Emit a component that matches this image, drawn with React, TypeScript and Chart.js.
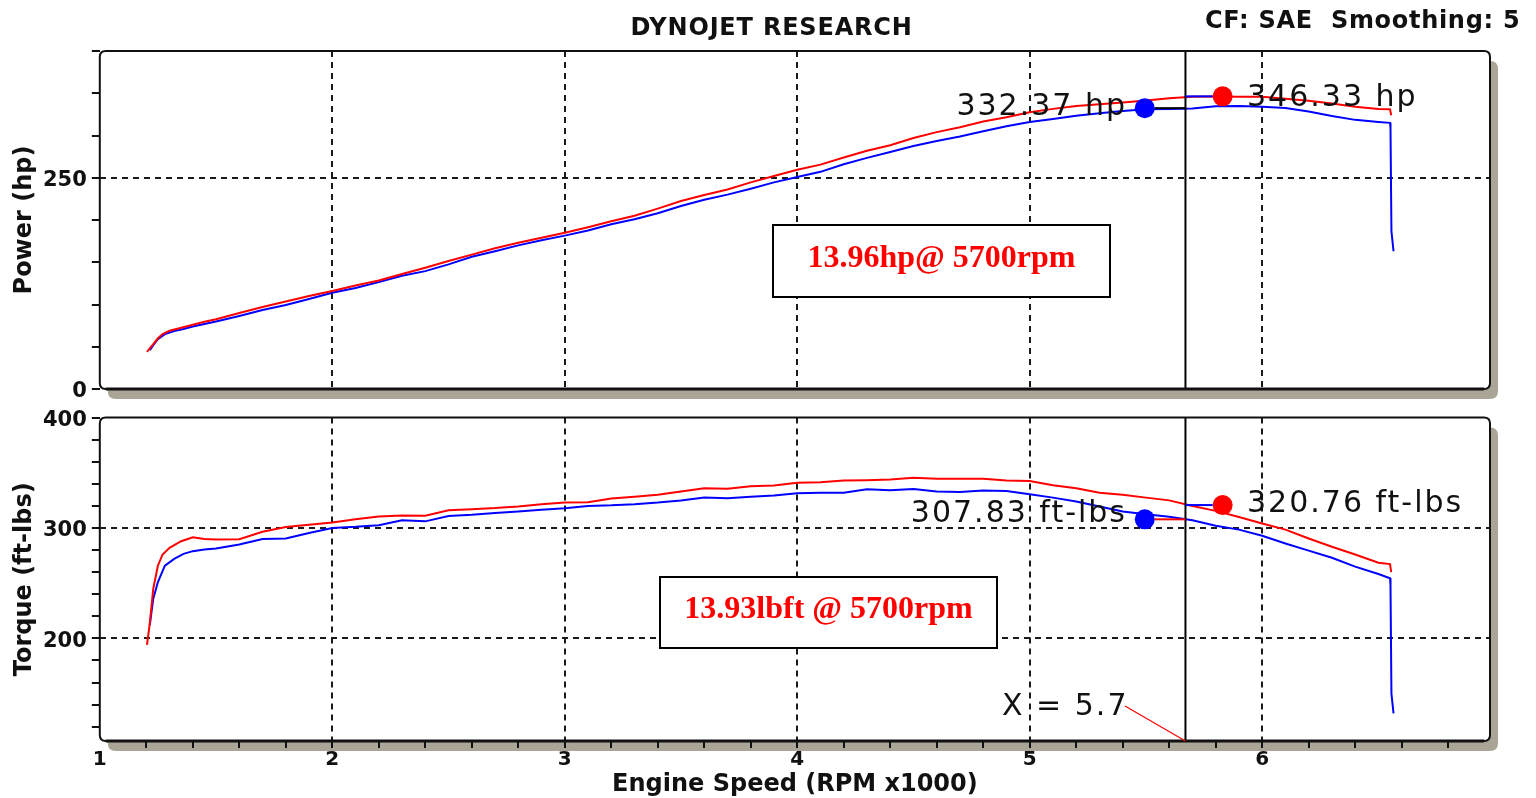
import React, { useEffect, useRef } from "react";
import { Chart, registerables } from "chart.js";

Chart.register(...registerables);

// ---------- DATA ----------
// Run 1 (red)
const run1Rpm = [1.203, 1.215, 1.23, 1.25, 1.27, 1.3, 1.35, 1.4, 1.45, 1.5,
  1.6, 1.7, 1.8, 1.9, 2.0, 2.1, 2.2, 2.3, 2.4, 2.5,
  2.6, 2.7, 2.8, 2.9, 3.0, 3.1, 3.2, 3.3, 3.4, 3.5,
  3.6, 3.7, 3.8, 3.9, 4.0, 4.1, 4.2, 4.3, 4.4, 4.5,
  4.6, 4.7, 4.8, 4.9, 5.0, 5.1, 5.2, 5.3, 5.4, 5.5,
  5.6, 5.7, 5.8, 5.9, 6.0, 6.1, 6.2, 6.3, 6.4, 6.5,
  6.55, 6.555];
const run1Hp = [44, 48, 53, 60, 65, 69, 72.5, 76, 79.5, 82.5,
  90, 97, 103.5, 110, 116, 122.5, 128.5, 136, 143.5, 151.5,
  159, 166.5, 173, 179, 185, 191.5, 198.5, 205, 213.5, 222.5,
  229.5, 236, 244.5, 252, 259.4, 265.5, 274, 282, 288.5, 297,
  304, 309.8, 316.5, 321.5, 327.5, 331.5, 335, 337, 339, 341.5,
  344, 346, 346.3, 346, 346, 343.5, 341, 338, 334, 331.5,
  331, 324];
const run1Tq = [194, 213.7, 245, 266, 276, 282, 288, 291.5, 290, 289.6,
  289.8, 296.5, 300.8, 303, 305, 308, 310.5, 311.2, 311, 316,
  317, 318, 319.5, 321.5, 323, 323.3, 326.8, 328.2, 330, 333,
  336, 335.5, 337.8, 338.5, 341, 341.5, 343, 343.3, 344, 345.5,
  344.6, 344.6, 344.6, 343, 342.6, 338.7, 336, 332, 330, 327.5,
  325, 320, 315.5, 310, 304, 298.5, 290.5, 283, 276, 268.5,
  267.3, 260];

// Run 2 (blue)
const run2Rpm = [1.215, 1.23, 1.25, 1.28, 1.32, 1.36, 1.4, 1.45, 1.5,
  1.6, 1.7, 1.8, 1.9, 2.0, 2.1, 2.2, 2.3, 2.4, 2.5,
  2.6, 2.7, 2.8, 2.9, 3.0, 3.1, 3.2, 3.3, 3.4, 3.5,
  3.6, 3.7, 3.8, 3.9, 4.0, 4.1, 4.2, 4.3, 4.4, 4.5,
  4.6, 4.7, 4.8, 4.9, 5.0, 5.1, 5.2, 5.3, 5.4, 5.5,
  5.6, 5.7, 5.8, 5.9, 6.0, 6.1, 6.2, 6.3, 6.4, 6.5,
  6.55, 6.552, 6.556, 6.565];
const run2Hp = [46, 52, 59, 65, 68.5, 71, 74, 77, 80,
  86.5, 93.5, 99.5, 106.5, 114, 119.5, 126.5, 134, 139.5, 147.5,
  156.5, 163, 170, 176, 181.5, 187.5, 195, 201, 208, 216.5,
  224, 230, 237, 244.5, 250.8, 257, 266, 273.5, 280.5, 287.5,
  293.5, 298.7, 305, 311, 316, 319.5, 323.5, 326.3, 329, 331,
  331.5, 332, 334.5, 335, 334, 332.5, 328.5, 323, 318.5, 316,
  315, 309, 187, 163];
const run2Tq = [212, 236, 251, 265.8, 272, 276.5, 279, 280.5, 281.5,
  285, 290, 290.5, 295.5, 300, 301, 302.5, 307, 306, 310.8,
  311.9, 313.5, 315, 316.5, 317.8, 320, 320.5, 321.5, 323, 325,
  327.5, 327, 328.3, 329.5, 331.5, 332, 332, 335, 334.2, 335.3,
  333, 332.7, 334, 333.6, 330.5, 327.5, 324, 319.5, 315, 312.5,
  310.2, 307, 302, 298.5, 293, 286, 279.5, 273, 265, 258.3,
  254.5, 248, 150, 132];

// Marker dots (blue = run 2, red = run 1)
const markerRpm = [5.495, 5.83];
const markerHp = [332.37, 346.33];
const markerTq = [307.83, 320.76];
const cursorRpm = 5.67;

// Axis ticks
const rpmTicks = [1, 1.2, 1.4, 1.6, 1.8, 2, 2.2, 2.4, 2.6, 2.8, 3, 3.2, 3.4, 3.6, 3.8,
  4, 4.2, 4.4, 4.6, 4.8, 5, 5.2, 5.4, 5.6, 5.8, 6, 6.2, 6.4, 6.6, 6.8];
const rpmLabels = [1, 2, 3, 4, 5, 6];
const rpmGrid = [2, 3, 4, 5, 6];
const powerTicks = [0, 50, 100, 150, 200, 250, 300, 350, 400];
const powerLabels = [0, 250];
const powerGrid = [250];
const torqueTicks = [120, 140, 160, 180, 200, 220, 240, 260, 280, 300, 320, 340, 360, 380, 400];
const torqueLabels = [200, 300, 400];
const torqueGrid = [200, 300];

// ---------- LAYOUT / STYLE ----------
const W = 1536;
const PLOT_LEFT = 99.8;
const PLOT_RIGHT = 1490;
const RED = "#ff0000";
const BLUE = "#0000ff";
const SHADOW = "#aaa596";
const GRID = "#1a1a1a";
const SANS = '"DejaVu Sans", "Noto Sans", sans-serif';
const SERIF = '"Liberation Serif", "DejaVu Serif", serif';

const zip = (xs: number[], ys: number[]) => xs.map((x, i) => ({ x, y: ys[i] }));
const has = (list: number[], v: number) => list.some((u) => Math.abs(u - v) < 1e-6);

function roundRect(ctx: CanvasRenderingContext2D, x: number, y: number, w: number, h: number, r: number) {
  ctx.beginPath();
  ctx.moveTo(x + r, y);
  ctx.lineTo(x + w - r, y);
  ctx.quadraticCurveTo(x + w, y, x + w, y + r);
  ctx.lineTo(x + w, y + h - r);
  ctx.quadraticCurveTo(x + w, y + h, x + w - r, y + h);
  ctx.lineTo(x + r, y + h);
  ctx.quadraticCurveTo(x, y + h, x, y + h - r);
  ctx.lineTo(x, y + r);
  ctx.quadraticCurveTo(x, y, x + r, y);
  ctx.closePath();
}

function text(ctx: any, str: string, x: number, y: number, font: string, color: string, align: string = "left", spacing = 0) {
  ctx.save();
  ctx.font = font;
  ctx.fillStyle = color;
  ctx.textAlign = align;
  ctx.textBaseline = "alphabetic";
  ctx.letterSpacing = spacing + "px";
  ctx.fillText(str, x, y);
  ctx.restore();
}

function line(ctx: CanvasRenderingContext2D, x1: number, y1: number, x2: number, y2: number, color: string, w: number) {
  ctx.save();
  ctx.strokeStyle = color;
  ctx.lineWidth = w;
  ctx.beginPath();
  ctx.moveTo(x1, y1);
  ctx.lineTo(x2, y2);
  ctx.stroke();
  ctx.restore();
}

function box(ctx: CanvasRenderingContext2D, x1: number, y1: number, x2: number, y2: number) {
  ctx.save();
  ctx.fillStyle = "#fff";
  ctx.fillRect(x1, y1, x2 - x1, y2 - y1);
  ctx.strokeStyle = "#000";
  ctx.lineWidth = 2;
  ctx.strokeRect(x1, y1, x2 - x1, y2 - y1);
  ctx.restore();
}

function panelPlugin(id: string, values: number[], leftColor: string, drawExtra: (chart: any) => void) {
  return {
    id,
    beforeDraw(chart: any) {
      const { ctx, chartArea: a } = chart;
      ctx.save();
      ctx.fillStyle = SHADOW;
      roundRect(ctx, a.left + 8, a.top + 10, a.right - a.left, a.bottom - a.top, 8);
      ctx.fill();
      ctx.fillStyle = "#fff";
      roundRect(ctx, a.left, a.top, a.right - a.left, a.bottom - a.top, 6);
      ctx.fill();
      ctx.restore();
    },
    afterDatasetsDraw(chart: any) {
      const { ctx, chartArea: a, scales } = chart;
      const xs = scales.x;
      const ys = scales.y;
      const cx = xs.getPixelForValue(cursorRpm);
      line(ctx, cx, a.top, cx, a.bottom, "#000", 2);
      const bx = xs.getPixelForValue(markerRpm[0]);
      const by = ys.getPixelForValue(values[0]);
      const rx = xs.getPixelForValue(markerRpm[1]);
      const ry = ys.getPixelForValue(values[1]);
      line(ctx, bx + 10, by, cx, by, leftColor, 2);
      line(ctx, cx, ry, rx - 10, ry, BLUE, 2);
    },
    afterDraw(chart: any) {
      const { ctx, chartArea: a } = chart;
      ctx.save();
      ctx.strokeStyle = "#111";
      ctx.lineWidth = 2;
      roundRect(ctx, a.left, a.top, a.right - a.left, a.bottom - a.top, 6);
      ctx.stroke();
      ctx.lineWidth = 3;
      ctx.beginPath();
      ctx.moveTo(a.left + 6, a.bottom);
      ctx.lineTo(a.right - 6, a.bottom);
      ctx.stroke();
      ctx.restore();
      drawExtra(chart);
    },
  };
}

function baseDataset(label: string, data: any[], color: string) {
  return {
    label,
    data,
    borderColor: color,
    backgroundColor: color,
    borderWidth: 2,
    pointRadius: 0,
    pointHoverRadius: 0,
    tension: 0,
    fill: false,
  };
}

function markerDataset(values: number[]) {
  return {
    label: "markers",
    data: zip(markerRpm, values),
    showLine: false,
    pointRadius: 10,
    pointHoverRadius: 10,
    pointBorderWidth: 0,
    pointBackgroundColor: [BLUE, RED],
    borderColor: "rgba(0,0,0,0)",
  };
}

export default function App() {
  const topRef = useRef<HTMLCanvasElement>(null);
  const botRef = useRef<HTMLCanvasElement>(null);

  useEffect(() => {
    document.body.style.margin = "0";
    Chart.defaults.font.family = SANS;

    const yTickFont = { family: SANS, weight: "bold" as const, size: 21 };
    const titleFont = { family: SANS, weight: "bold" as const, size: 24 };

    const topPlugin = panelPlugin("dynoTop", markerHp, "#000", (chart: any) => {
      const ctx = chart.ctx;
      text(ctx, "DYNOJET RESEARCH", 771.5, 35, `bold 24px ${SANS}`, "#111", "center", 0.8);
      text(ctx, "CF: SAE  Smoothing: 5", 1205, 28, `bold 24px ${SANS}`, "#111", "left", 0.7);
      text(ctx, "332.37 hp", 1127, 115, `30px ${SANS}`, "#111", "right", 2);
      text(ctx, "346.33 hp", 1247, 106, `30px ${SANS}`, "#111", "left", 2);
      box(ctx, 773, 225, 1110, 297);
      text(ctx, "13.96hp@ 5700rpm", 941.5, 267, `bold 32px ${SERIF}`, RED, "center", 0);
    });

    const botPlugin = panelPlugin("dynoBottom", markerTq, RED, (chart: any) => {
      const ctx = chart.ctx;
      const a = chart.chartArea;
      const cx = chart.scales.x.getPixelForValue(cursorRpm);
      text(ctx, "307.83 ft-lbs", 1127, 122, `30px ${SANS}`, "#111", "right", 2);
      text(ctx, "320.76 ft-lbs", 1247, 112, `30px ${SANS}`, "#111", "left", 2);
      box(ctx, 660, 177, 997, 248);
      text(ctx, "13.93lbft @ 5700rpm", 828.5, 218, `bold 32px ${SERIF}`, RED, "center", 0);
      text(ctx, "X = 5.7", 1002, 315, `30px ${SANS}`, "#111", "left", 2);
      line(ctx, 1125, 306, cx, a.bottom, RED, 1.2);
    });

    const top = new Chart(topRef.current as HTMLCanvasElement, {
      type: "line",
      data: {
        datasets: [
          markerDataset(markerHp) as any,
          baseDataset("Run 1 Power", zip(run1Rpm, run1Hp), RED),
          baseDataset("Run 2 Power", zip(run2Rpm, run2Hp), BLUE),
        ],
      },
      options: {
        animation: false,
        responsive: false,
        events: [],
        layout: { padding: { left: 0, right: W - PLOT_RIGHT, top: 51, bottom: 420 - 389 } },
        plugins: { legend: { display: false }, tooltip: { enabled: false }, title: { display: false } },
        scales: {
          x: {
            type: "linear",
            min: 1,
            max: 6.98,
            afterBuildTicks: (s: any) => { s.ticks = rpmLabels.map((v) => ({ value: v })); },
            afterFit: (s: any) => { s.height = 0; },
            ticks: { display: false, autoSkip: false },
            grid: {
              drawTicks: false,
              lineWidth: 2,
              color: (c: any) => (c.tick && has(rpmGrid, c.tick.value) ? GRID : "rgba(0,0,0,0)"),
            },
            border: { display: false, dash: [6, 5] },
          },
          y: {
            type: "linear",
            min: 0,
            max: 400,
            afterBuildTicks: (s: any) => { s.ticks = powerTicks.map((v) => ({ value: v })); },
            afterFit: (s: any) => { s.width = PLOT_LEFT; },
            ticks: {
              autoSkip: false,
              padding: 5,
              labelOffset: 3,
              color: "#111",
              font: yTickFont,
              callback: (v: any) => (has(powerLabels, Number(v)) ? String(v) : ""),
            },
            grid: {
              lineWidth: 2,
              color: (c: any) => (c.tick && has(powerGrid, c.tick.value) ? GRID : "rgba(0,0,0,0)"),
              drawTicks: true,
              tickLength: 8,
              tickWidth: 2,
              tickColor: "#111",
            },
            border: { display: false, dash: [6, 5] },
            title: { display: true, text: "Power (hp)", color: "#111", font: titleFont, padding: { top: 10, bottom: 0 } },
          },
        },
      } as any,
      plugins: [topPlugin as any],
    });

    const bottom = new Chart(botRef.current as HTMLCanvasElement, {
      type: "line",
      data: {
        datasets: [
          markerDataset(markerTq) as any,
          baseDataset("Run 1 Torque", zip(run1Rpm, run1Tq), RED),
          baseDataset("Run 2 Torque", zip(run2Rpm, run2Tq), BLUE),
        ],
      },
      options: {
        animation: false,
        responsive: false,
        events: [],
        layout: { padding: { left: 0, right: W - PLOT_RIGHT, top: 13, bottom: 3 } },
        plugins: { legend: { display: false }, tooltip: { enabled: false }, title: { display: false } },
        scales: {
          x: {
            type: "linear",
            min: 1,
            max: 6.98,
            afterBuildTicks: (s: any) => { s.ticks = rpmTicks.map((v) => ({ value: v })); },
            afterFit: (s: any) => { s.height = 54; },
            ticks: {
              autoSkip: false,
              maxRotation: 0,
              padding: 0,
              color: "#111",
              font: { family: SANS, weight: "bold", size: 20 },
              callback: (v: any) => {
                const n = Number(v);
                return has(rpmLabels, n) ? String(Math.round(n)) : "";
              },
            },
            grid: {
              lineWidth: 2,
              color: (c: any) => (c.tick && has(rpmGrid, c.tick.value) ? GRID : "rgba(0,0,0,0)"),
              drawTicks: true,
              tickLength: 7,
              tickWidth: 2,
              tickColor: (c: any) => (c.tick && Math.abs(c.tick.value - 1) < 1e-6 ? "rgba(0,0,0,0)" : "#111"),
            },
            border: { display: false, dash: [6, 5] },
            title: {
              display: true,
              text: "Engine Speed (RPM x1000)",
              color: "#111",
              font: titleFont,
              padding: { top: 0, bottom: -4 },
            },
          },
          y: {
            type: "linear",
            min: 107,
            max: 400,
            afterBuildTicks: (s: any) => { s.ticks = torqueTicks.map((v) => ({ value: v })); },
            afterFit: (s: any) => { s.width = PLOT_LEFT; },
            ticks: {
              autoSkip: false,
              padding: 5,
              labelOffset: 3,
              color: "#111",
              font: yTickFont,
              callback: (v: any) => (has(torqueLabels, Number(v)) ? String(v) : ""),
            },
            grid: {
              lineWidth: 2,
              color: (c: any) => (c.tick && has(torqueGrid, c.tick.value) ? GRID : "rgba(0,0,0,0)"),
              drawTicks: true,
              tickLength: 8,
              tickWidth: 2,
              tickColor: "#111",
            },
            border: { display: false, dash: [6, 5] },
            title: { display: true, text: "Torque (ft-lbs)", color: "#111", font: titleFont, padding: { top: 10, bottom: 0 } },
          },
        },
      } as any,
      plugins: [botPlugin as any],
    });

    return () => {
      top.destroy();
      bottom.destroy();
    };
  }, []);

  return (
    <div style={{ position: "relative", width: W, height: 798, background: "#fff", overflow: "hidden" }}>
      <canvas ref={topRef} width={W} height={420} style={{ position: "absolute", left: 0, top: 0 }} />
      <canvas ref={botRef} width={W} height={398} style={{ position: "absolute", left: 0, top: 400 }} />
    </div>
  );
}
